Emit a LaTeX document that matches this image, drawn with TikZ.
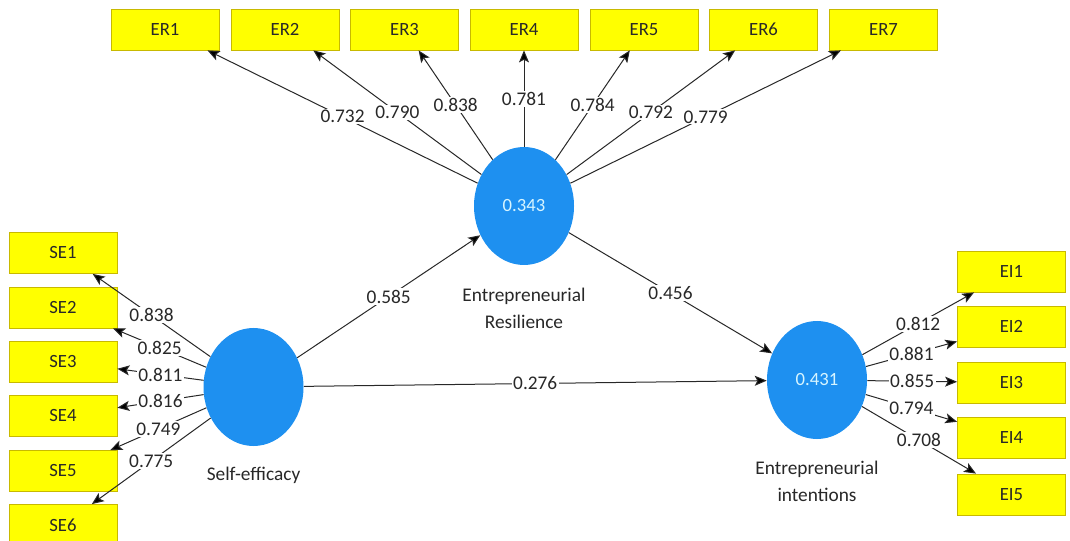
\documentclass[tikz,border=0pt]{standalone}
\usepackage{fontspec}
\setmainfont{Carlito}
\usetikzlibrary{shapes.geometric,arrows.meta}
\definecolor{boxfill}{RGB}{255,255,0}
\definecolor{boxline}{RGB}{200,185,0}
\definecolor{lv}{RGB}{30,144,240}
\definecolor{lvtext}{RGB}{215,245,255}
\definecolor{ink}{RGB}{40,40,40}
\tikzset{
  ind/.style={rectangle, fill=boxfill, draw=boxline, line width=0.6pt,
    minimum width=81pt, minimum height=30.75pt, inner sep=0pt,
    font=\fontsize{14}{16}\selectfont, text=ink},
  latent/.style={ellipse, fill=lv, minimum width=75pt, minimum height=88.5pt,
    inner sep=0pt, font=\fontsize{14}{16}\selectfont, text=lvtext},
  link/.style={draw=ink, line width=0.75pt,
    -{Stealth[length=9pt,width=7.5pt,inset=2pt,fill=black]}},
  coef/.style={fill=white, inner sep=1pt, font=\fontsize{14.5}{16}\selectfont, text=ink},
  lvcap/.style={align=center, font=\fontsize{14.5}{20}\selectfont, text=ink}
}
\begin{document}
\begin{tikzpicture}[x=0.75pt,y=-0.75pt]
\useasboundingbox[fill=white] (0,0) rectangle (1070,541);
% latent variables
\node[latent] (ER) at (524,206) {0.343};
\node[latent] (SE) at (253.5,387) {};
\node[latent] (EI) at (817,380) {0.431};
\node[lvcap] (ERcap) at (524,308.5) {Entrepreneurial\\Resilience};
\node[lvcap] (SEcap) at (253.5,475) {Self-efficacy};
\node[lvcap] (EIcap) at (817,481.5) {Entrepreneurial\\intentions};
% ER indicators
\node[ind] (ER1) at (165,29.5) {ER1};
\node[ind] (ER2) at (285,29.5) {ER2};
\node[ind] (ER3) at (404.5,29.5) {ER3};
\node[ind] (ER4) at (524,29.5) {ER4};
\node[ind] (ER5) at (644,29.5) {ER5};
\node[ind] (ER6) at (763.5,29.5) {ER6};
\node[ind] (ER7) at (883.5,29.5) {ER7};
% SE indicators
\node[ind] (SE1) at (63,253) {SE1};
\node[ind] (SE2) at (63,307.5) {SE2};
\node[ind] (SE3) at (63,361.5) {SE3};
\node[ind] (SE4) at (63,416) {SE4};
\node[ind] (SE5) at (63,471) {SE5};
\node[ind] (SE6) at (63,525) {SE6};
% EI indicators
\node[ind] (EI1) at (1011.5,271.5) {EI1};
\node[ind] (EI2) at (1011.5,326.5) {EI2};
\node[ind] (EI3) at (1011.5,382.5) {EI3};
\node[ind] (EI4) at (1011.5,438) {EI4};
\node[ind] (EI5) at (1011.5,494.5) {EI5};
% outer loadings
\draw[link] (ER) -- node[coef] {0.732} (ER1);
\draw[link] (ER) -- node[coef] {0.790} (ER2);
\draw[link] (ER) -- node[coef] {0.838} (ER3);
\draw[link] (ER) -- node[coef] {0.781} (ER4);
\draw[link] (ER) -- node[coef] {0.784} (ER5);
\draw[link] (ER) -- node[coef] {0.792} (ER6);
\draw[link] (ER) -- node[coef] {0.779} (ER7);
\draw[link] (SE) -- node[coef] {0.838} (SE1);
\draw[link] (SE) -- node[coef] {0.825} (SE2);
\draw[link] (SE) -- node[coef] {0.811} (SE3);
\draw[link] (SE) -- node[coef] {0.816} (SE4);
\draw[link] (SE) -- node[coef] {0.749} (SE5);
\draw[link] (SE) -- node[coef] {0.775} (SE6);
\draw[link] (EI) -- node[coef] {0.812} (EI1);
\draw[link] (EI) -- node[coef] {0.881} (EI2);
\draw[link] (EI) -- node[coef] {0.855} (EI3);
\draw[link] (EI) -- node[coef] {0.794} (EI4);
\draw[link] (EI) -- node[coef] {0.708} (EI5);
% path coefficients
\draw[link] (SE) -- node[coef] {0.585} (ER);
\draw[link] (ER) -- node[coef] {0.456} (EI);
\draw[link] (SE) -- node[coef] {0.276} (EI);
\end{tikzpicture}
\end{document}
